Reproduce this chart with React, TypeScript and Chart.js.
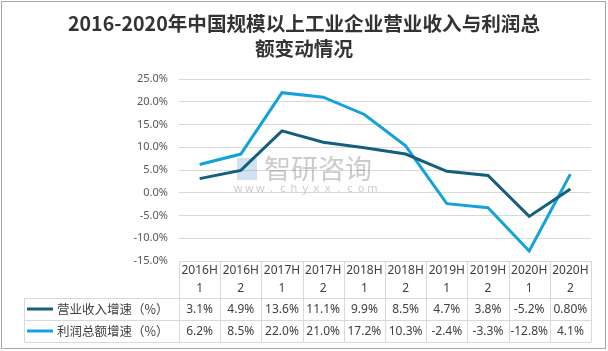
import React, { useEffect, useRef } from "react";
import { Chart, registerables } from "chart.js";

Chart.register(...registerables);

const titleLines = ["2016-2020年中国规模以上工业企业营业收入与利润总", "额变动情况"];
const categories = ["2016H1", "2016H2", "2017H1", "2017H2", "2018H1", "2018H2", "2019H1", "2019H2", "2020H1", "2020H2"];
const headerTop = ["2016H", "2016H", "2017H", "2017H", "2018H", "2018H", "2019H", "2019H", "2020H", "2020H"];
const headerBottom = ["1", "2", "1", "2", "1", "2", "1", "2", "1", "2"];
const revenueName = "营业收入增速（%）";
const profitName = "利润总额增速（%）";
const revenueValues = [3.1, 4.9, 13.6, 11.1, 9.9, 8.5, 4.7, 3.8, -5.2, 0.8];
const profitValues = [6.2, 8.5, 22.0, 21.0, 17.2, 10.3, -2.4, -3.3, -12.8, 4.1];
const revenueLabels = ["3.1%", "4.9%", "13.6%", "11.1%", "9.9%", "8.5%", "4.7%", "3.8%", "-5.2%", "0.80%"];
const profitLabels = ["6.2%", "8.5%", "22.0%", "21.0%", "17.2%", "10.3%", "-2.4%", "-3.3%", "-12.8%", "4.1%"];
const yMin = -15;
const yMax = 25;
const yStep = 5;
const watermarkMain = "智研咨询";
const watermarkSub = "www.chyxx.com";

const DARK = "#135F7D";
const LIGHT = "#13A3DA";
const GRID = "#D9D9D9";
const TEXT = "#404040";

export default function App() {
  const canvasRef = useRef<HTMLCanvasElement | null>(null);

  useEffect(() => {
    document.body.style.margin = "0";
    const canvas = canvasRef.current;
    if (!canvas) return;

    const framePlugin = {
      id: "frame",
      beforeDraw(chart: any) {
        const ctx = chart.ctx;
        ctx.save();
        ctx.fillStyle = "#ffffff";
        ctx.fillRect(0, 0, chart.width, chart.height);
        ctx.strokeStyle = "#A6A6A6";
        ctx.lineWidth = 1;
        ctx.strokeRect(1.5, 1.5, 604, 347);
        // title
        ctx.fillStyle = "#333333";
        ctx.font = 'bold 19.6px "Noto Sans CJK SC", sans-serif';
        ctx.textAlign = "center";
        ctx.textBaseline = "middle";
        ctx.fillText(titleLines[0], 304, 24);
        ctx.fillText(titleLines[1], 304, 49);
        ctx.restore();
      },
      beforeDatasetsDraw(chart: any) {
        const ctx = chart.ctx;
        ctx.save();
        // watermark logo
        ctx.fillStyle = "rgba(120,170,215,0.35)";
        ctx.fillRect(237, 158, 20, 22);
        ctx.fillStyle = "rgba(140,140,140,0.45)";
        ctx.font = '27px "Noto Sans CJK SC", sans-serif';
        ctx.textAlign = "left";
        ctx.textBaseline = "middle";
        ctx.fillText(watermarkMain, 264, 169);
        ctx.font = '11px "Noto Sans", sans-serif';
        ctx.textAlign = "center";
        const chars = watermarkSub.split("");
        chars.forEach((c, i) => {
          ctx.fillText(c, 238 + i * 11.2, 189);
        });
        ctx.restore();
      },
      afterDraw(chart: any) {
        const ctx = chart.ctx;
        const area = chart.chartArea;
        const xs = chart.scales.x;
        const n = categories.length;
        const left = area.left;
        const right = area.right;
        const colW = (right - left) / n;
        const top = area.bottom;
        const r1 = top + 37;
        const r2 = r1 + 22;
        const r3 = r2 + 22;
        const legendLeft = 24;
        ctx.save();
        ctx.strokeStyle = GRID;
        ctx.lineWidth = 1;
        ctx.beginPath();
        for (let i = 0; i <= n; i++) {
          const x = Math.round(left + i * colW) + 0.5;
          ctx.moveTo(x, top);
          ctx.lineTo(x, r3);
        }
        ctx.moveTo(legendLeft + 0.5, r1);
        ctx.lineTo(legendLeft + 0.5, r3);
        [r1, r2, r3].forEach((y) => {
          ctx.moveTo(legendLeft, Math.round(y) + 0.5);
          ctx.lineTo(right, Math.round(y) + 0.5);
        });
        ctx.stroke();

        ctx.fillStyle = TEXT;
        ctx.font = '12px "Noto Sans", sans-serif';
        ctx.textAlign = "center";
        ctx.textBaseline = "middle";
        for (let i = 0; i < n; i++) {
          const cx = xs.getPixelForValue(i);
          ctx.fillText(headerTop[i], cx, top + 10);
          ctx.fillText(headerBottom[i], cx, top + 28);
          ctx.fillText(revenueLabels[i], cx, (r1 + r2) / 2 + 0.5);
          ctx.fillText(profitLabels[i], cx, (r2 + r3) / 2 + 0.5);
        }
        const rows = [
          { name: revenueName, color: DARK, y: (r1 + r2) / 2 },
          { name: profitName, color: LIGHT, y: (r2 + r3) / 2 },
        ];
        rows.forEach((row) => {
          ctx.strokeStyle = row.color;
          ctx.lineWidth = 3;
          ctx.beginPath();
          ctx.moveTo(27, row.y);
          ctx.lineTo(53, row.y);
          ctx.stroke();
          ctx.fillStyle = TEXT;
          ctx.font = '12.5px "Noto Sans CJK SC", sans-serif';
          ctx.textAlign = "left";
          ctx.fillText(row.name, 57, row.y);
        });
        ctx.restore();
      },
    };

    const chart = new Chart(canvas, {
      type: "line",
      data: {
        labels: categories,
        datasets: [
          {
            label: revenueName,
            data: revenueValues,
            borderColor: DARK,
            backgroundColor: DARK,
            borderWidth: 3,
            pointRadius: 0,
            tension: 0,
          },
          {
            label: profitName,
            data: profitValues,
            borderColor: LIGHT,
            backgroundColor: LIGHT,
            borderWidth: 3,
            pointRadius: 0,
            tension: 0,
          },
        ],
      },
      options: {
        responsive: false,
        animation: false,
        devicePixelRatio: 1,
        layout: { padding: { top: 79, left: 0, right: 17, bottom: 90 } },
        plugins: {
          legend: { display: false },
          title: { display: false },
          tooltip: { enabled: false },
        },
        scales: {
          x: {
            type: "category",
            offset: true,
            grid: { display: false },
            border: { display: false },
            ticks: { display: false },
            afterFit(scale: any) {
              scale.height = 0;
            },
          },
          y: {
            min: yMin,
            max: yMax,
            border: { display: false },
            grid: { color: GRID, drawTicks: false, lineWidth: 1 },
            ticks: {
              stepSize: yStep,
              padding: 11,
              color: "#595959",
              font: { family: '"Noto Sans", sans-serif', size: 11 },
              callback: (v: any) => Number(v).toFixed(1) + "%",
            },
            afterFit(scale: any) {
              scale.width = 179;
            },
          },
        },
      },
      plugins: [framePlugin],
    });

    return () => chart.destroy();
  }, []);

  return (
    <div style={{ width: 608, height: 351 }}>
      <canvas ref={canvasRef} width={608} height={351} style={{ width: 608, height: 351, display: "block" }} />
    </div>
  );
}
